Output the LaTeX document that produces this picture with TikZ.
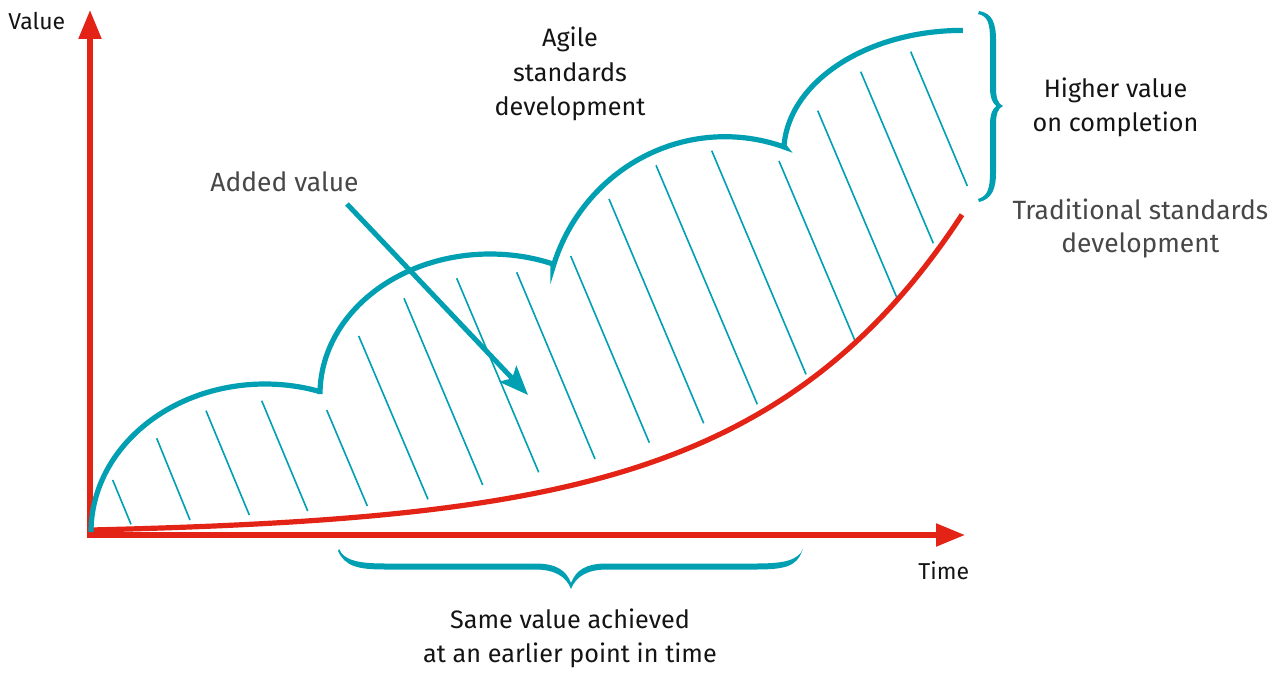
\documentclass[tikz,border=0pt]{standalone}
\usepackage{fontspec}
\setmainfont{Fira Sans}
\usetikzlibrary{arrows.meta}
\definecolor{tealc}{RGB}{0,159,178}
\definecolor{axred}{RGB}{227,35,22}
\tikzset{
  axisline/.style={draw=axred, line width=2.6pt, line join=miter},
  redcurve/.style={draw=axred, line width=2.6pt},
  tealcurve/.style={draw=tealc, line width=2.6pt, line join=miter, miter limit=25},
  hatchline/.style={draw=tealc, line width=0.8pt},
  pointer/.style={draw=tealc, line width=2.5pt, -{Stealth[length=14.5pt, width=11.5pt, inset=3pt]}},
  braceshape/.style={fill=tealc, draw=none},
  lbl/.style={font=\fontsize{12.6}{17.2}\selectfont, text=black!92, align=center, inner sep=0pt},
  lightlbl/.style={font=\fontsize{13.2}{16.5}\selectfont, text=black!72, align=center, inner sep=0pt},
  axlbl/.style={font=\fontsize{11.5}{14}\selectfont, text=black!92, inner sep=0pt},
}
\begin{document}
\begin{tikzpicture}[x=0.5pt,y=-0.5pt]
\useasboundingbox (0,0) rectangle (1277,673);

% hatching
\foreach \a/\b/\c/\d in {
  112.7/480/131/524.3, 156.7/438.3/190/520, 206/410.7/249.3/515,
  261.7/400.7/307.7/511, 326.7/410/367.3/506, 358.7/336/428/499.3,
  404/298.3/482.7/485, 456.7/278.3/538.7/472.3, 516.7/272.3/595/459,
  570.7/256/649.3/442.7, 609/199/703.7/423.3, 656/165.3/757.3/404.3,
  711.7/150.7/806/374.3, 779/161/855/340.7, 817.7/110.7/896.7/297.3,
  860.7/71.7/933.3/243.3, 910.7/51.7/967.3/186}
  \draw[hatchline] (\a,\b) -- (\c,\d);

% axes
\coordinate (ytip) at (90,10);
\coordinate (origin) at (90,535);
\coordinate (xtip) at (965,535);
\draw[axisline, {Triangle[length=14.5pt,width=11pt]}-{Triangle[length=14.5pt,width=11pt]}]
  (ytip) -- (origin) -- (xtip);

% traditional curve
\draw[redcurve] plot[domain=91:962, samples=90, smooth] (\x, {535-5*exp(0.00478*(\x-91))});

% agile curve
\draw[tealcurve] (91,532)
  arc[start angle=180, end angle=288.4, x radius=174, y radius=148]
  -- (320,394)
  arc[start angle=180, end angle=291.75, x radius=170, y radius=140]
  -- (553,267)
  arc[start angle=197.2, end angle=289.5, x radius=180, y radius=185]
  -- (784,146)
  arc[start angle=183, end angle=270, x radius=179, y radius=122];

% right brace (higher value)
\fill[braceshape] (979,11) .. controls (992,13) and (996,23) .. (996,40) -- (996,88)
  .. controls (996,98) and (998,104) .. (1003,106)
  .. controls (998,108) and (996,114) .. (996,124) -- (996,172)
  .. controls (996,189) and (992,199) .. (979,202)
  -- (978,199) .. controls (988,196) and (990,188) .. (990,172) -- (990,124)
  .. controls (990,114) and (993,108) .. (996.5,106)
  .. controls (993,104) and (990,98) .. (990,88) -- (990,40)
  .. controls (990,24) and (988,16) .. (978,14) -- cycle;

% bottom brace (same value)
\fill[braceshape] (339,549) .. controls (344,560) and (357,563.5) .. (385,563.5) -- (535,563.5)
  .. controls (556,563.5) and (566,570) .. (571,583)
  .. controls (576,570) and (586,563.5) .. (607,563.5) -- (757,563.5)
  .. controls (785,563.5) and (798,560) .. (803,549)
  -- (802,551) .. controls (797,566) and (785,569.5) .. (757,569.5) -- (607,569.5)
  .. controls (588,569.5) and (576,576) .. (571,589)
  .. controls (566,576) and (554,569.5) .. (535,569.5) -- (385,569.5)
  .. controls (357,569.5) and (345,566) .. (338,551) -- cycle;

% added value pointer
\node[lightlbl, anchor=base] (added) at (284.5,191.7) {Added value};
\coordinate (avs) at (347,204);
\coordinate (avt) at (528,395);
\draw[pointer] (avs) -- (avt);

% labels
\node[axlbl, anchor=base west] (value) at (8,29.5) {Value};
\node[axlbl, anchor=base west] (time) at (918,579.5) {Time};
\node[lbl] (agile) at (570,74) {Agile\\standards\\development};
\node[lbl] (higher) at (1115.5,107.5) {Higher value\\on completion};
\node[lightlbl] (trad) at (1140.3,229) {Traditional standards\\development};
\node[lbl] (same) at (570,638.5) {Same value achieved\\at an earlier point in time};
\end{tikzpicture}
\end{document}
